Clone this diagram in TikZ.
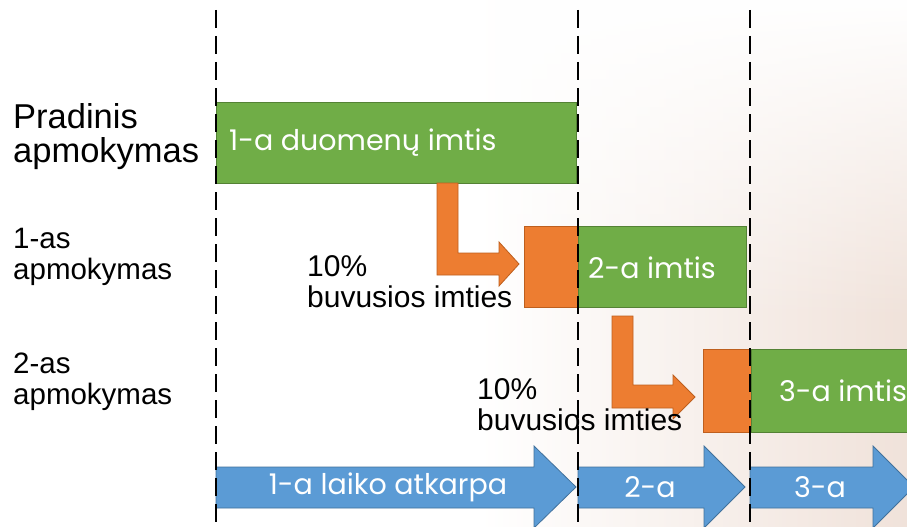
\documentclass[tikz,border=0pt]{standalone}
\usepackage{fontspec}
\usetikzlibrary{fadings}
\setmainfont{Liberation Sans}
\newfontfamily\gothic{Poppins}
\definecolor{grn}{RGB}{112,173,71}
\definecolor{grnline}{RGB}{84,130,53}
\definecolor{org}{RGB}{237,125,49}
\definecolor{orgline}{RGB}{190,95,30}
\definecolor{blu}{RGB}{91,155,213}
\definecolor{bluline}{RGB}{65,113,156}
\definecolor{peach}{RGB}{240,226,218}
\tikzset{
  grnbox/.style={fill=grn, draw=grnline, line width=0.8pt},
  orgshape/.style={fill=org, draw=orgline, line width=0.8pt},
  blushape/.style={fill=blu, draw=bluline, line width=0.8pt},
  boxtext/.style={text=white, font=\gothic\fontsize{28.5}{32}\selectfont, inner sep=0pt},
  lbl/.style={anchor=north west, align=left, inner sep=0pt, text=black},
  divider/.style={line width=2pt, dash pattern=on 18pt off 8pt},
}
\begin{document}
\begin{tikzpicture}[x=1pt,y=-1pt]
\clip (0,0) rectangle (907,527);
\fill[white] (0,0) rectangle (907,527);
\shade[left color=white, right color=peach] (480,0) rectangle (907,527);
\fill[white, path fading=south] (400,-1) rectangle (908,320);

% left labels
\node[lbl, font=\fontsize{34.5}{34}\selectfont] (l0) at (13,103) {Pradinis\\apmokymas};
\node[lbl, font=\fontsize{29.5}{31}\selectfont] (l1) at (13,228) {1-as\\apmokymas};
\node[lbl, font=\fontsize{29.5}{31}\selectfont] (l2) at (13,353) {2-as\\apmokymas};

% green boxes
\draw[grnbox] (216,102) rectangle (576,183);
\node[boxtext, anchor=west] (g1) at (229,143) {1-a duomenų imtis};
\draw[orgshape] (524,226) rectangle (578,307);
\draw[grnbox] (578,226) rectangle (746,307);
\node[boxtext] (g2) at (652,268) {2-a imtis};
\draw[orgshape] (703,349) rectangle (751,432);
\draw[grnbox] (751,349) rectangle (915,432);
\node[boxtext] (g3) at (843,391) {3-a imtis};

% bent orange arrows
\draw[orgshape] (437,183) -- (458,183) -- (458,253) -- (499,253) -- (499,242) -- (519,264)
  -- (499,286) -- (499,275) -- (437,275) -- cycle;
\draw[orgshape] (612,316) -- (633,316) -- (633,385) -- (673,385) -- (673,375) -- (695,397)
  -- (673,419) -- (673,408) -- (612,408) -- cycle;

% 10% labels
\node[lbl, font=\fontsize{30}{31}\selectfont] (p1) at (307,255) {10\%\\buvusios imties};
\node[lbl, font=\fontsize{30}{31}\selectfont] (p2) at (477,378) {10\%\\buvusios imties};

% blue time arrows
\draw[blushape] (216,467) -- (534,467) -- (534,446) -- (576,487) -- (534,528) -- (534,508) -- (216,508) -- cycle;
\node[boxtext] (t1) at (388,487) {1-a laiko atkarpa};
\draw[blushape] (578,467) -- (704,467) -- (704,446) -- (745,487) -- (704,528) -- (704,508) -- (578,508) -- cycle;
\node[boxtext] (t2) at (650,487) {2-a};
\draw[blushape] (750,467) -- (873,467) -- (873,446) -- (914,487) -- (873,528) -- (873,508) -- (750,508) -- cycle;
\node[boxtext] (t3) at (820,487) {3-a};

% dashed dividers
\coordinate (d1t) at (216,10); \coordinate (d1b) at (216,530);
\coordinate (d2t) at (578,10); \coordinate (d2b) at (578,530);
\coordinate (d3t) at (750,10); \coordinate (d3b) at (750,530);
\draw[divider] (d1t) -- (d1b);
\draw[divider] (d2t) -- (d2b);
\draw[divider] (d3t) -- (d3b);
\end{tikzpicture}
\end{document}
